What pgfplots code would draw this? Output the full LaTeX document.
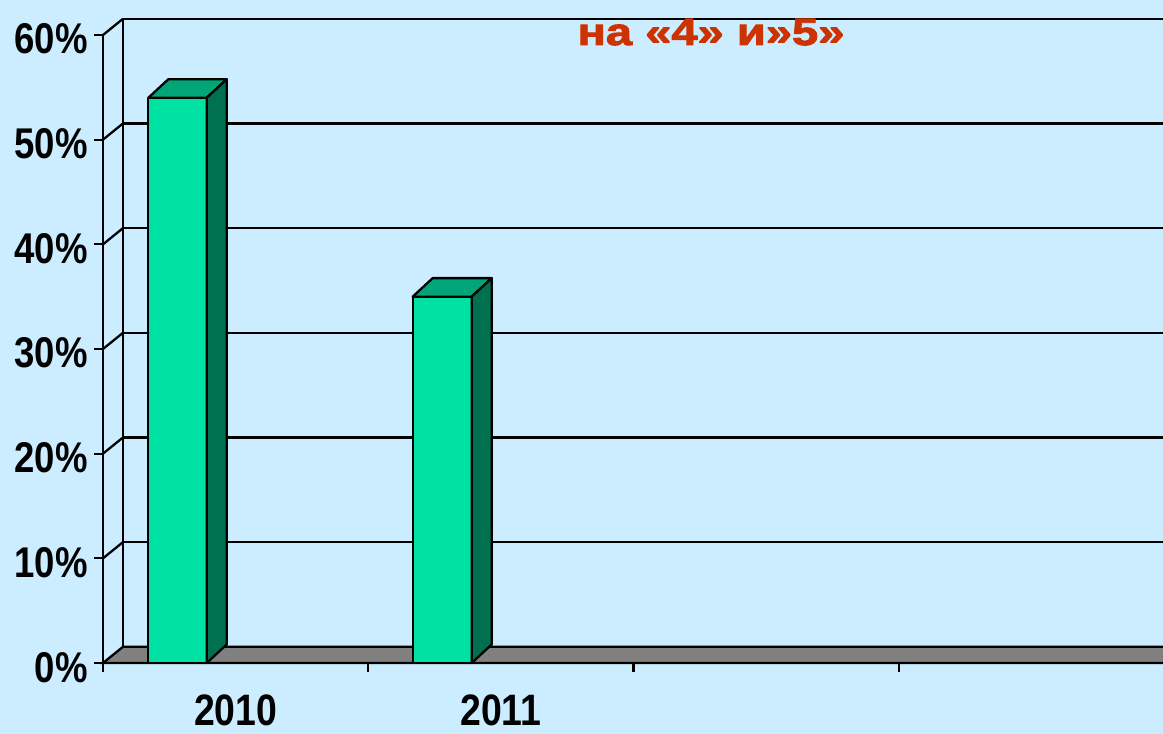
\documentclass[border=0pt]{standalone}
\usepackage{fontspec}
\setmainfont{Liberation Sans}
\newfontfamily\narrowfont{Liberation Sans}[FakeStretch=0.85]
\newfontfamily\titlefont{Liberation Sans}[FakeStretch=1.24, FakeBold=2.5]
\usepackage{pgfplots}
\pgfplotsset{compat=1.18}
\definecolor{bg}{RGB}{204,236,255}
\definecolor{barfront}{RGB}{0,226,164}
\definecolor{bartop}{RGB}{0,166,120}
\definecolor{barside}{RGB}{0,112,80}
\definecolor{floorgray}{RGB}{128,128,128}
\definecolor{titlered}{RGB}{204,51,0}
\begin{document}
\begin{tikzpicture}
\useasboundingbox (-103pt,-71pt) rectangle (1060pt,663pt);
\fill[bg] (-103pt,-71pt) rectangle (1060pt,663pt);
\clip (-103pt,-71pt) rectangle (1060pt,663pt);
\begin{axis}[
  scale only axis, width=1061pt, height=628pt,
  xmin=0, xmax=4, ymin=0, ymax=60,
  clip=false, axis on top, no markers,
  axis x line*=bottom, axis y line*=left,
  axis line style={line width=2.5pt, black},
  tick align=outside, major tick length=9pt,
  tick style={line width=2.3pt, black},
  xtick={0,1,2,3,4}, xticklabels={},
  extra x ticks={0.5,1.5},
  extra x tick labels={2010,2011},
  extra x tick style={major tick length=0pt},
  xticklabel style={font=\narrowfont\bfseries\fontsize{44}{44}\selectfont, anchor=base, inner sep=0pt, text depth=0pt, yshift=-62pt},
  ytick={0,10,20,30,40,50,60},
  yticklabels={0\%,10\%,20\%,30\%,40\%,50\%,60\%},
  yticklabel style={font=\narrowfont\bfseries\fontsize{43}{43}\selectfont, anchor=base east, inner sep=0pt, xshift=-6pt, yshift=-19pt},
]
% back wall left edge and grid lines
\addplot[black, line width=2.3pt] coordinates {(0.0754,1.55) (0.0754,61.55)};
\addplot[black, line width=2.3pt] coordinates {(0.0754,11.55) (4.3,11.55)};
\addplot[black, line width=2.3pt] coordinates {(0.0754,21.55) (4.3,21.55)};
\addplot[black, line width=2.3pt] coordinates {(0.0754,31.55) (4.3,31.55)};
\addplot[black, line width=2.3pt] coordinates {(0.0754,41.55) (4.3,41.55)};
\addplot[black, line width=2.3pt] coordinates {(0.0754,51.55) (4.3,51.55)};
\addplot[black, line width=2.3pt] coordinates {(0.0754,61.55) (4.3,61.55)};
% side wall diagonals
\addplot[black, line width=2.3pt] coordinates {(0,10) (0.0754,11.55)};
\addplot[black, line width=2.3pt] coordinates {(0,20) (0.0754,21.55)};
\addplot[black, line width=2.3pt] coordinates {(0,30) (0.0754,31.55)};
\addplot[black, line width=2.3pt] coordinates {(0,40) (0.0754,41.55)};
\addplot[black, line width=2.3pt] coordinates {(0,50) (0.0754,51.55)};
\addplot[black, line width=2.3pt] coordinates {(0,60) (0.0754,61.55)};
% floor
\addplot[fill=floorgray, draw=black, line width=2.3pt] coordinates {(0,0) (0.0754,1.55) (4.3,1.55) (4.3,0)} -- cycle;
% bar 2010: 54%
\addplot[fill=barfront, draw=black, line width=2.3pt, line join=round] coordinates {(0.1708,0) (0.391,0) (0.391,54) (0.1708,54)} -- cycle;
\addplot[fill=bartop, draw=black, line width=2.3pt, line join=round] coordinates {(0.1708,54) (0.391,54) (0.4664,55.77) (0.2462,55.77)} -- cycle;
\addplot[fill=barside, draw=black, line width=2.3pt, line join=round] coordinates {(0.391,0) (0.4664,1.77) (0.4664,55.77) (0.391,54)} -- cycle;
% bar 2011: 35%
\addplot[fill=barfront, draw=black, line width=2.3pt, line join=round] coordinates {(1.1676,0) (1.390,0) (1.390,35) (1.1676,35)} -- cycle;
\addplot[fill=bartop, draw=black, line width=2.3pt, line join=round] coordinates {(1.1676,35) (1.390,35) (1.4654,36.77) (1.243,36.77)} -- cycle;
\addplot[fill=barside, draw=black, line width=2.3pt, line join=round] coordinates {(1.390,0) (1.4654,1.77) (1.4654,36.77) (1.390,35)} -- cycle;
\end{axis}
\begin{scope}
\clip (-103pt,-71pt) rectangle (1060pt,645pt);
\node[anchor=base, inner sep=0pt, text=titlered, font=\titlefont\bfseries\fontsize{38}{38}\selectfont] at (608pt,618pt) {на «4» и»5»};
\end{scope}
\end{tikzpicture}
\end{document}
